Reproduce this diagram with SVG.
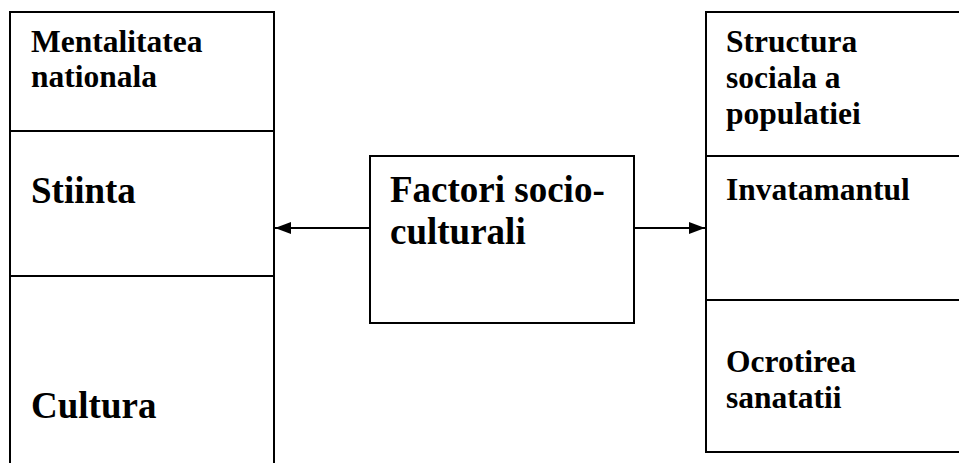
<svg xmlns="http://www.w3.org/2000/svg" width="959" height="463" viewBox="0 0 959 463">
<defs>
<style>
.b{fill:none;stroke:#000;stroke-width:2}
.t{font-family:"Liberation Serif","Times New Roman",serif;font-weight:bold;fill:#000}
.s{font-size:31.5px}
.l{font-size:37px}
.c{stroke:#000;stroke-width:2;fill:none}
</style>
<marker id="ah" viewBox="0 0 16 12" refX="16" refY="6" markerWidth="16" markerHeight="12" markerUnits="userSpaceOnUse" orient="auto">
<path d="M0,0 L16,6 L0,12 Z" fill="#000"/>
</marker>
</defs>
<rect width="959" height="463" fill="#fff"/>
<g id="left">
<path class="b" d="M10,470 V12 H274 V470 M10,131 H274 M10,276 H274"/>
<text class="t s" x="31" y="52">Mentalitatea</text>
<text class="t s" x="31" y="87">nationala</text>
<text class="t l" x="31" y="203">Stiinta</text>
<text class="t l" x="31" y="418">Cultura</text>
</g>
<g id="center">
<rect class="b" x="370" y="156" width="264" height="167"/>
<text class="t l" x="390" y="202">Factori socio-</text>
<text class="t l" x="390" y="244">culturali</text>
</g>
<g id="right">
<path class="b" d="M970,12 H706 V452 H970 M706,156 H970 M706,300 H970"/>
<text class="t s" x="726" y="52">Structura</text>
<text class="t s" x="726" y="88">sociala a</text>
<text class="t s" x="726" y="124">populatiei</text>
<text class="t s" x="726" y="200">Invatamantul</text>
<text class="t s" x="726" y="372">Ocrotirea</text>
<text class="t s" x="726" y="408">sanatatii</text>
</g>
<g id="connectors">
<line class="c" x1="370" y1="228" x2="275" y2="228" marker-end="url(#ah)"/>
<line class="c" x1="634" y1="228" x2="705" y2="228" marker-end="url(#ah)"/>
</g>
</svg>
